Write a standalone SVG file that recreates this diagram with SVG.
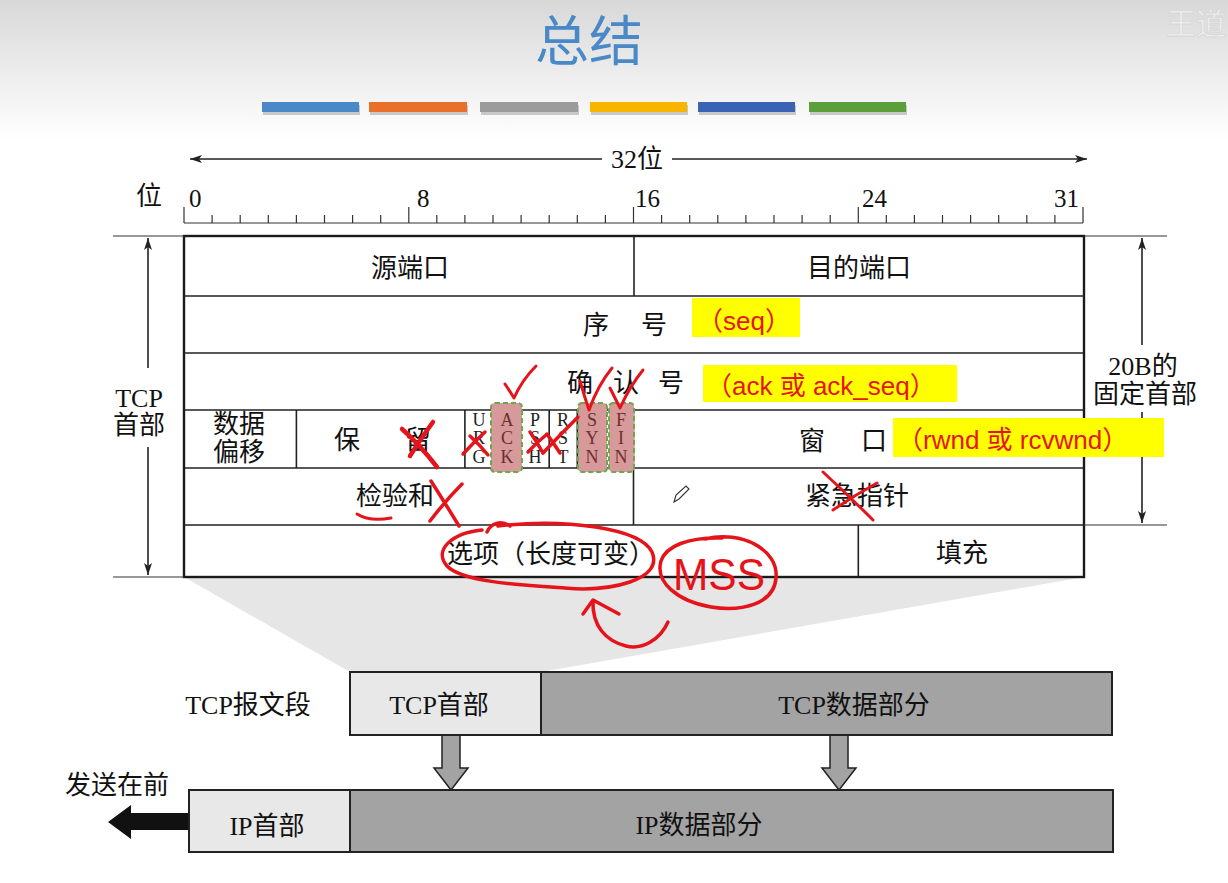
<svg xmlns="http://www.w3.org/2000/svg" width="1228" height="883" viewBox="0 0 1228 883">
<defs>
<linearGradient id="bg" x1="0" y1="0" x2="0" y2="1">
<stop offset="0" stop-color="#d8d8d8"/>
<stop offset="1" stop-color="#ffffff"/>
</linearGradient>
<marker id="ah" viewBox="0 0 12 8" refX="12" refY="4" markerWidth="12" markerHeight="8" orient="auto" markerUnits="userSpaceOnUse">
<path d="M0,0 L12,4 L0,8 L3,4 Z" fill="#222"/>
</marker>
<style>
.cj{font-family:"Liberation Serif","Noto Sans CJK SC",serif;fill:#111;font-size:26px}
.num{font-family:"Liberation Serif",serif;fill:#111;font-size:25px}
.flag{font-family:"Liberation Serif",serif;fill:#222;font-size:18px;text-anchor:middle}
.mid{text-anchor:middle}
.ln{stroke:#222;stroke-width:1.6;fill:none}
.thin{stroke:#333;stroke-width:1.2;fill:none}
.red{stroke:#e5141b;fill:none;stroke-linecap:round;stroke-linejoin:round}
.rt{font-family:"Liberation Sans","Noto Sans CJK SC",sans-serif;fill:#e5141b;font-size:26px}
.hl{fill:#ffff00}
.pk{fill:#d8999a;stroke:#6aa84f;stroke-width:2;stroke-dasharray:5,3}
.gbox{stroke:#222;stroke-width:2}
</style>
</defs>
<rect x="0" y="0" width="1228" height="883" fill="#ffffff"/>
<rect x="0" y="0" width="1228" height="140" fill="url(#bg)"/>
<text x="1166" y="34" font-family="Noto Sans CJK SC,sans-serif" font-size="30" fill="#f4f4f4" stroke="#d6d6d6" stroke-width="0.8">王道</text>

<g id="title">
<text x="589" y="61" class="mid" font-family="Noto Sans CJK SC,sans-serif" font-size="54" fill="#4a89c8">总结</text>
</g>
<g id="colorbars">
<g fill="#9a9a9a" opacity="0.5">
<rect x="263" y="105" width="97" height="10"/><rect x="370" y="105" width="98" height="10"/><rect x="481" y="105" width="98" height="10"/><rect x="591" y="105" width="97" height="10"/><rect x="699" y="105" width="97" height="10"/><rect x="810" y="105" width="97" height="10"/>
</g>
<rect x="262" y="102" width="97" height="10" fill="#4a89c8"/>
<rect x="369" y="102" width="98" height="10" fill="#e8702a"/>
<rect x="480" y="102" width="98" height="10" fill="#9b9b9b"/>
<rect x="590" y="102" width="97" height="10" fill="#f7b500"/>
<rect x="698" y="102" width="97" height="10" fill="#3a63b5"/>
<rect x="809" y="102" width="97" height="10" fill="#5b9e3a"/>
</g>

<g id="ruler">
<text x="136" y="205" class="cj" font-size="25">位</text>
<text x="189" y="207" class="num">0</text>
<text x="417" y="207" class="num">8</text>
<text x="635" y="207" class="num">16</text>
<text x="862" y="207" class="num">24</text>
<text x="1054" y="207" class="num">31</text>
<path class="thin" d="M184,223 H1083 M184,207 V223 M408.8,207 V223 M633.5,207 V223 M858.3,207 V223 M1083,207 V223 M212.1,215 V223 M240.2,215 V223 M268.3,215 V223 M296.4,215 V223 M324.5,215 V223 M352.6,215 V223 M380.7,215 V223 M436.8,215 V223 M464.9,215 V223 M493,215 V223 M521.1,215 V223 M549.2,215 V223 M577.3,215 V223 M605.4,215 V223 M661.6,215 V223 M689.7,215 V223 M717.8,215 V223 M745.9,215 V223 M774,215 V223 M802.1,215 V223 M830.2,215 V223 M886.3,215 V223 M914.4,215 V223 M942.5,215 V223 M970.6,215 V223 M998.7,215 V223 M1026.8,215 V223 M1054.9,215 V223"/>
<text x="637" y="168" class="cj mid" font-size="24">32位</text>
</g>

<g id="shadow">
<polygon points="184,577 1084,577 541,672 350,672" fill="#e6e6e6"/>
</g>

<g id="table">
<rect x="184" y="236" width="900" height="341" fill="#ffffff" stroke="#1a1a1a" stroke-width="2.4"/>
<path class="ln" d="M184,296 H1084 M184,353 H1084 M184,410 H1084 M184,468 H1084 M184,525 H1084 M634,236 V296 M296.4,410 V468 M464.9,410 V468 M493,410 V468 M521.1,410 V468 M549.2,410 V468 M577.3,410 V468 M605.4,410 V468 M633.5,410 V525 M858.3,525 V577"/>
<g id="cell-srcport"><text x="410" y="277" class="cj mid">源端口</text></g>
<g id="cell-dstport"><text x="859" y="277" class="cj mid">目的端口</text></g>
<g id="cell-seq"><text x="596" y="334" class="cj mid">序</text><text x="654" y="334" class="cj mid">号</text></g>
<g id="cell-ack"><text x="580" y="392" class="cj mid">确</text><text x="626" y="392" class="cj mid">认</text><text x="671" y="392" class="cj mid">号</text></g>
<g id="cell-offset"><text x="239" y="433" class="cj mid">数据</text><text x="239" y="461" class="cj mid">偏移</text></g>
<g id="cell-reserved"><text x="347" y="449" class="cj mid">保</text><text x="418" y="449" class="cj mid">留</text></g>
<g id="cell-flags">
<rect x="491" y="403" width="31" height="69" rx="4" class="pk"/>
<rect x="578" y="403" width="29" height="69" rx="4" class="pk"/>
<rect x="609" y="403" width="25" height="69" rx="4" class="pk"/>
<text class="flag"><tspan x="479" y="426">U</tspan><tspan x="479" y="444">R</tspan><tspan x="479" y="463">G</tspan></text>
<text class="flag" fill="#6a3030" style="fill:#6a3030"><tspan x="507" y="426">A</tspan><tspan x="507" y="444">C</tspan><tspan x="507" y="463">K</tspan></text>
<text class="flag"><tspan x="535" y="426">P</tspan><tspan x="535" y="444">S</tspan><tspan x="535" y="463">H</tspan></text>
<text class="flag"><tspan x="563" y="426">R</tspan><tspan x="563" y="444">S</tspan><tspan x="563" y="463">T</tspan></text>
<text class="flag" style="fill:#6a3030"><tspan x="592" y="426">S</tspan><tspan x="592" y="444">Y</tspan><tspan x="592" y="463">N</tspan></text>
<text class="flag" style="fill:#6a3030"><tspan x="621" y="426">F</tspan><tspan x="621" y="444">I</tspan><tspan x="621" y="463">N</tspan></text>
</g>
<g id="cell-window"><text x="812" y="450" class="cj mid">窗</text><text x="874" y="450" class="cj mid">口</text></g>
<g id="cell-checksum"><text x="395" y="505" class="cj mid">检验和</text></g>
<g id="cell-urgent"><text x="857" y="505" class="cj mid">紧急指针</text></g>
<g id="cell-options"><text x="551" y="563" class="cj mid">选项（长度可变）</text></g>
<g id="cell-padding"><text x="962" y="562" class="cj mid">填充</text></g>
</g>

<g id="brackets">
<path class="thin" d="M113,236 H184 M113,577 H184 M1084,236 H1167 M1084,525 H1167"/>
<text x="139" y="407" class="cj mid">TCP</text>
<text x="139" y="434" class="cj mid">首部</text>
<text x="1143" y="375" class="cj mid" font-size="25">20B的</text>
<text x="1145" y="403" class="cj mid">固定首部</text>
</g>

<g id="connectors">
<path class="ln" d="M602,159 H190" marker-end="url(#ah)"/>
<path class="ln" d="M672,159 H1087" marker-end="url(#ah)"/>
<path class="ln" d="M148,368 V238" marker-end="url(#ah)"/>
<path class="ln" d="M148,447 V575" marker-end="url(#ah)"/>
<path class="ln" d="M1142,345 V238" marker-end="url(#ah)"/>
<path class="ln" d="M1142,412 V523" marker-end="url(#ah)"/>
<path d="M442,735 V768 H434 L451,790 L468,768 H460 V735 Z" fill="#a3a3a3" stroke="#222" stroke-width="1.5"/>
<path d="M830,735 V768 H822 L839,790 L856,768 H848 V735 Z" fill="#a3a3a3" stroke="#222" stroke-width="1.5"/>
<path d="M189,813 H131 V805 L108,822 L131,839 V830 H189 Z" fill="#111"/>
</g>

<g id="highlights">
<rect x="692" y="298" width="108" height="39" class="hl"/>
<text x="697" y="330" class="rt">（seq）</text>
<rect x="703" y="365" width="254" height="37" class="hl"/>
<text x="706" y="395" class="rt">（ack 或 ack_seq）</text>
<rect x="893" y="418" width="271" height="39" class="hl"/>
<text x="897" y="449" class="rt">（rwnd 或 rcvwnd）</text>
</g>

<g id="tcp-segment">
<text x="248" y="714" class="cj mid">TCP报文段</text>
<rect x="350" y="672" width="191" height="63" fill="#e8e8e8" class="gbox"/>
<rect x="541" y="672" width="571" height="63" fill="#a3a3a3" class="gbox"/>
<text x="439" y="714" class="cj mid">TCP首部</text>
<text x="854" y="714" class="cj mid">TCP数据部分</text>
</g>

<g id="ip-datagram">
<text x="117" y="794" class="cj mid">发送在前</text>
<rect x="189" y="790" width="161" height="62" fill="#e8e8e8" class="gbox"/>
<rect x="350" y="790" width="763" height="62" fill="#a3a3a3" class="gbox"/>
<text x="267" y="835" class="cj mid">IP首部</text>
<text x="699" y="834" class="cj mid">IP数据部分</text>
</g>

<g id="pencil">
<path d="M674,502 L676,495 L686,486 L689,489 L679,499 Z" fill="#fff" stroke="#333" stroke-width="1.1"/>
</g>

<g id="annotations">
<path class="red" stroke-width="3" d="M505,384 Q509,390 514,398 Q522,380 536,366"/>
<path class="red" stroke-width="3" d="M580,381 Q584,395 589,410 Q598,385 612,368"/>
<path class="red" stroke-width="3" d="M610,388 Q615,398 620,408 Q630,386 643,370"/>
<path class="red" stroke-width="4.5" d="M402,429 Q420,445 437,467 M433,422 Q420,440 410,456"/>
<path class="red" stroke-width="3.5" d="M463,454 Q474,442 485,432 M470,436 Q480,445 488,455"/>
<path class="red" stroke-width="3.5" d="M530,432 Q537,442 543,453 M528,452 Q536,443 546,435"/>
<path class="red" stroke-width="3.5" d="M543,453 Q560,435 578,417 M547,434 Q554,444 560,453"/>
<path class="red" stroke-width="3" d="M357,514 C365,519 375,521 391,518"/>
<path class="red" stroke-width="3.5" d="M431,481 Q445,503 459,526 M462,484 Q446,500 430,521"/>
<path class="red" stroke-width="3" d="M823,472 Q848,495 873,520 M833,510 Q855,495 877,483"/>
<path class="red" stroke-width="3.5" d="M487,532 C491,523 501,520 510,526 M498,526 C565,518 640,528 652,552 C664,580 610,592 565,588 C520,585 462,582 447,566 C433,550 452,533 482,530"/>
<path class="red" stroke-width="3.5" d="M705,539 C742,530 779,550 776,578 C774,604 742,612 711,607 C677,601 655,582 661,561 C666,546 688,537 722,538"/>
<text x="673" y="590" font-family="Liberation Sans,sans-serif" font-size="44" fill="#e5141b" textLength="92" lengthAdjust="spacingAndGlyphs">MSS</text>
<path class="red" stroke-width="3.5" d="M668,622 C660,640 642,650 626,646 C606,641 592,626 593,601 M583,614 L593,600 L619,614"/>
</g>
</svg>
